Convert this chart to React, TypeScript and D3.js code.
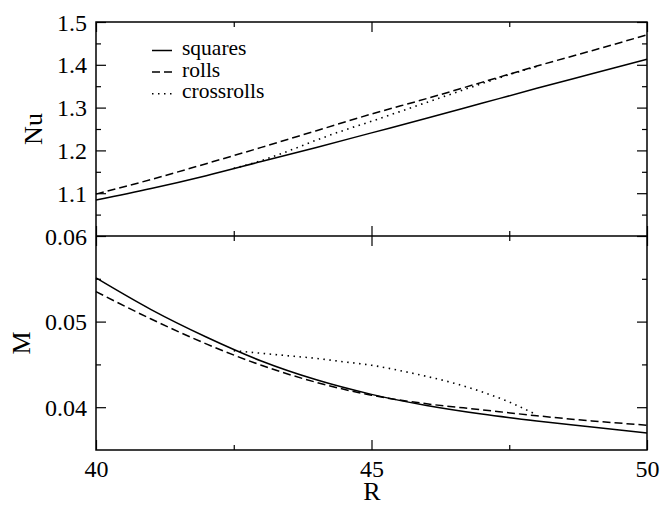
import React, { useEffect, useRef } from "react";
import * as d3 from "d3";

// R grid for squares and rolls
const rValues = [40, 41, 42, 43, 44, 45, 46, 47, 48, 49, 50];
const nuSquares = [1.084, 1.111, 1.141, 1.174, 1.207, 1.241, 1.275, 1.31, 1.345, 1.379, 1.413];
const nuRolls = [1.098, 1.132, 1.169, 1.207, 1.246, 1.285, 1.321, 1.359, 1.397, 1.433, 1.47];
const mSquares = [0.0551, 0.0514, 0.0482, 0.0454, 0.0432, 0.0415, 0.0402, 0.0392, 0.0384, 0.0377, 0.037];
const mRolls = [0.0535, 0.0503, 0.0474, 0.0449, 0.0429, 0.0414, 0.0404, 0.0397, 0.039, 0.0384, 0.0379];

// crossrolls only exist on a shorter branch
const rCross = [42.5, 43, 43.5, 44, 44.5, 45, 45.5, 46, 46.5, 47, 47.5, 48];
const nuCross = [1.158, 1.176, 1.199, 1.224, 1.247, 1.268, 1.29, 1.312, 1.334, 1.356, 1.377, 1.396];
const mCross = [0.0466, 0.0463, 0.046, 0.0457, 0.0453, 0.0449, 0.0443, 0.0436, 0.0428, 0.0418, 0.0406, 0.0391];

const xTicks = [40, 45, 50];
const xMinorTicks = [42.5, 47.5];
const nuTicks = [1.1, 1.2, 1.3, 1.4, 1.5];
const nuMinorTicks = [1.05, 1.15, 1.25, 1.35, 1.45];
const mTicks = [0.04, 0.05, 0.06];
const mMinorTicks = [0.045, 0.055];
const legendLabels = ["squares", "rolls", "crossrolls"];

const FONT = "'Liberation Serif', 'Times New Roman', serif";
const dashes = [null, "8,4", "1.5,4.5"];

const App = () => {
  const svgRef = useRef<SVGSVGElement>(null);

  useEffect(() => {
    document.body.style.margin = "0";
    const left = 96,
      right = 647,
      top = 22,
      mid = 236,
      bottom = 450;

    const svg = d3.select(svgRef.current);
    svg.selectAll("*").remove();
    svg.attr("width", 661).attr("height", 505);
    svg.append("rect").attr("width", 661).attr("height", 505).attr("fill", "#fff");

    const x = d3.scaleLinear().domain([40, 50]).range([left, right]);
    const yNu = d3.scaleLinear().domain([1.0, 1.5]).range([mid, top]);
    const yM = d3.scaleLinear().domain([0.035, 0.06]).range([bottom, mid]);

    // ticks on every side, pointing inward
    const addAxis = (axis, tx, ty, labels) => {
      const g = svg.append("g").attr("transform", `translate(${tx},${ty})`).call(axis);
      g.attr("font-family", null).attr("font-size", null);
      g.select(".domain").remove();
      g.selectAll("line").attr("stroke", "#000").attr("stroke-width", 1.2);
      g.selectAll("text")
        .style("font-family", FONT)
        .style("font-size", "24px")
        .attr("fill", "#000");
      if (!labels) g.selectAll("text").remove();
      return g;
    };

    const panels = [
      { y: yNu, ticks: nuTicks, minor: nuMinorTicks, y0: top, y1: mid, fmt: d3.format(".1f") },
      { y: yM, ticks: mTicks, minor: mMinorTicks, y0: mid, y1: bottom, fmt: d3.format(".2f") },
    ];

    panels.forEach((p, i) => {
      const leftAx = addAxis(
        d3.axisLeft(p.y).tickValues(p.ticks).tickSize(-10).tickPadding(9).tickFormat(p.fmt),
        left,
        0,
        true
      );
      leftAx.selectAll("text").attr("dy", "0.34em");
      addAxis(d3.axisLeft(p.y).tickValues(p.minor).tickSize(-5), left, 0, false);
      addAxis(d3.axisRight(p.y).tickValues(p.ticks).tickSize(-10), right, 0, false);
      addAxis(d3.axisRight(p.y).tickValues(p.minor).tickSize(-5), right, 0, false);

      addAxis(d3.axisTop(x).tickValues(xTicks).tickSize(-10), 0, p.y0, false);
      addAxis(d3.axisTop(x).tickValues(xMinorTicks).tickSize(-5), 0, p.y0, false);
      const bAx = addAxis(
        d3.axisBottom(x).tickValues(xTicks).tickSize(-10).tickPadding(10).tickFormat(d3.format("d")),
        0,
        p.y1,
        i === 1
      );
      bAx.selectAll("text").attr("dy", "0.71em");
      addAxis(d3.axisBottom(x).tickValues(xMinorTicks).tickSize(-5), 0, p.y1, false);
    });

    // frame
    svg
      .append("path")
      .attr("d", `M${left},${top}H${right}V${bottom}H${left}Z M${left},${mid}H${right}`)
      .attr("fill", "none")
      .attr("stroke", "#000")
      .attr("stroke-width", 1.5);

    const series = [
      { xs: rValues, nu: nuSquares, m: mSquares },
      { xs: rValues, nu: nuRolls, m: mRolls },
      { xs: rCross, nu: nuCross, m: mCross },
    ];

    series.forEach((s, i) => {
      const lineNu = d3
        .line<number>()
        .x((_, j) => x(s.xs[j]))
        .y((d) => yNu(d))
        .curve(d3.curveMonotoneX);
      const lineM = d3
        .line<number>()
        .x((_, j) => x(s.xs[j]))
        .y((d) => yM(d))
        .curve(d3.curveMonotoneX);
      [
        [s.nu, lineNu],
        [s.m, lineM],
      ].forEach(([vals, gen]) => {
        svg
          .append("path")
          .datum(vals)
          .attr("fill", "none")
          .attr("stroke", "#000")
          .attr("stroke-width", i === 2 ? 1.6 : 1.5)
          .attr("stroke-dasharray", dashes[i])
          .attr("d", gen);
      });
    });

    // legend
    const legend = svg.append("g");
    legendLabels.forEach((label, i) => {
      const base = 55 + i * 21.6;
      legend
        .append("line")
        .attr("x1", 152)
        .attr("x2", 172)
        .attr("y1", base - 4.5)
        .attr("y2", base - 4.5)
        .attr("stroke", "#000")
        .attr("stroke-width", 1.5)
        .attr("stroke-dasharray", dashes[i]);
      legend
        .append("text")
        .attr("x", 182)
        .attr("y", base)
        .style("font-family", FONT)
        .style("font-size", "21.5px")
        .text(label);
    });

    // axis titles
    const title = (txt, tx, ty, rot) =>
      svg
        .append("text")
        .attr("transform", `translate(${tx},${ty}) rotate(${rot})`)
        .attr("text-anchor", "middle")
        .style("font-family", FONT)
        .style("font-size", "26px")
        .text(txt);
    title("Nu", 41.5, 129, -90);
    title("M", 29.5, 343, -90);
    title("R", 372, 500, 0);
  }, []);

  return <svg ref={svgRef} style={{ display: "block" }}></svg>;
};

export default App;
